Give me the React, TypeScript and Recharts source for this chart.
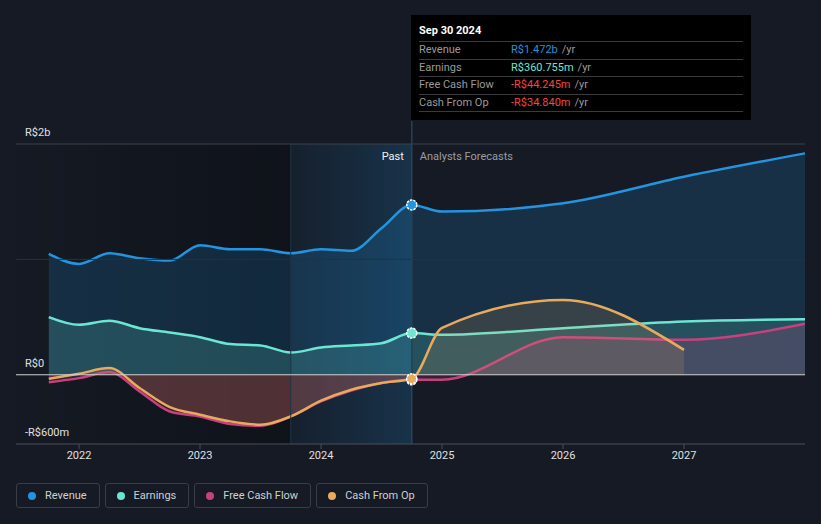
import React from 'react';
import {
  ComposedChart,
  Area,
  XAxis,
  YAxis,
  ReferenceLine,
  ReferenceArea,
} from 'recharts';

// quarter ends (decimal years) for history, then year-end analyst forecasts
const periods = [
  2021.75, 2022.0, 2022.25, 2022.5, 2022.75, 2023.0, 2023.25, 2023.5, 2023.75,
  2024.0, 2024.25, 2024.5, 2024.75, 2025.0, 2026.0, 2027.0, 2028.0,
];
// R$ millions
const revenue = [
  1048, 961, 1053, 1010, 990, 1123, 1088, 1088, 1053, 1088, 1074, 1270, 1472,
  1414, 1486, 1717, 1919,
];
const earnings = [
  500, 433, 468, 404, 366, 326, 266, 254, 193, 236, 254, 274, 361, 346, 404,
  462, 482,
];
const freeCashFlow = [
  -64, -29, 23, -144, -318, -361, -427, -442, -361, -231, -136, -72, -44, -43,
  326, 303, 442,
];
const cashFromOp = [
  -35, 9, 58, -115, -280, -346, -404, -433, -361, -225, -130, -72, -35, 407,
  649, 216, null,
];

const xTicks = [2022, 2023, 2024, 2025, 2026, 2027];
const yLines = [
  { v: 2000, label: 'R$2b', stroke: '#3d434c' },
  { v: 1000, label: '', stroke: '#283039' },
  { v: -600, label: '-R$600m', stroke: 'none' },
];
const zeroLabel = 'R$0';

const CURRENT = 12; // Sep 30 2024
const currentLabel = 'Sep 30 2024';
const pastStart = 2023.75;

const series = [
  { key: 'revenue', name: 'Revenue', color: '#2394df', tip: 'R$1.472b', fo: 0.18 },
  { key: 'earnings', name: 'Earnings', color: '#6ce6d3', tip: 'R$360.755m', fo: 0.18 },
  { key: 'fcf', name: 'Free Cash Flow', color: '#c8417f', tip: '-R$44.245m', fo: 0.2 },
  { key: 'cfo', name: 'Cash From Op', color: '#e8aa5c', tip: '-R$34.840m', fo: 0.15 },
];

const data = periods.map((t, i) => ({
  t,
  revenue: revenue[i],
  earnings: earnings[i],
  fcf: freeCashFlow[i],
  cfo: cashFromOp[i],
}));

const FONT = 'Roboto, "Open Sans", sans-serif';
const axisLabel = { position: 'insideBottomLeft' as const, offset: 8, dx: 1, fill: '#e0e0e0', fontSize: 11, fontFamily: FONT };

const makeDot = (color: string) => (props: any) => {
  const { cx, cy, index } = props;
  if (index !== CURRENT || cx == null || cy == null) return <g key={`d${index}`} />;
  return (
    <g key={`d${index}`}>
      <circle cx={cx} cy={cy} r={5} fill={color} stroke="#fff" strokeWidth={1.5} strokeDasharray="2.5 1" />
    </g>
  );
};

export default function App() {
  const tipColor = (v: string, c: string) => (v.startsWith('-') ? '#f0473f' : c);
  return (
    <div style={{ position: 'relative', width: 821, height: 524, background: '#151a24', fontFamily: FONT, overflow: 'hidden' }}>
      <style>{`body{margin:0}`}</style>
      <ComposedChart width={821} height={480} data={data} margin={{ top: 144, right: 16, bottom: 6, left: 16 }}>
        <defs>
          <linearGradient id="pastShade" x1="0" y1="0" x2="1" y2="0">
            <stop offset="0%" stopColor="#000" stopOpacity={0.02} />
            <stop offset="100%" stopColor="#000" stopOpacity={0.3} />
          </linearGradient>
          <linearGradient id="pastHi" x1="0" y1="0" x2="1" y2="0">
            <stop offset="0%" stopColor="#2394df" stopOpacity={0.05} />
            <stop offset="100%" stopColor="#2394df" stopOpacity={0.2} />
          </linearGradient>
        </defs>
        <XAxis
          type="number"
          dataKey="t"
          domain={[2021.479, 2028]}
          ticks={xTicks}
          allowDataOverflow
          height={30}
          tickSize={5}
          tickFormatter={(v) => String(v)}
          tick={{ fill: '#e0e0e0', fontSize: 11, fontFamily: FONT }}
          stroke="#4a4f58"
        />
        <YAxis type="number" domain={[-600, 2000]} allowDataOverflow hide />
        <ReferenceArea x1={2021.479} x2={pastStart} y1={-600} y2={2000} fill="url(#pastShade)" fillOpacity={1} stroke="none" />
        <ReferenceArea x1={pastStart} x2={periods[CURRENT]} y1={-600} y2={2000} fill="url(#pastHi)" fillOpacity={1} stroke="none" />
        <ReferenceLine x={pastStart} stroke="#1f3548" strokeWidth={1} />
        {yLines.map((l) => (
          <ReferenceLine key={l.v} y={l.v} stroke={l.stroke} strokeWidth={1} label={{ value: l.label, ...axisLabel }} />
        ))}
        {series.map((s) => (
          <Area
            key={s.key}
            type="monotone"
            dataKey={s.key}
            name={s.name}
            stroke={s.color}
            strokeWidth={2.5}
            fill={s.color}
            fillOpacity={s.fo}
            baseValue={0}
            dot={false}
            activeDot={false}
            isAnimationActive={false}
          />
        ))}
        <ReferenceLine y={0} stroke="#d2d2d2" strokeWidth={1} label={{ value: zeroLabel, ...axisLabel }} />
        <ReferenceLine
          segment={[
            { x: periods[CURRENT], y: -600 },
            { x: periods[CURRENT], y: 2200 },
          ]}
          ifOverflow="visible"
          stroke="#2b4156"
          strokeWidth={1.5}
          label={(p: any) => {
            const vb = p.viewBox || {};
            const x = vb.x ?? 0;
            return (
              <g>
                <text x={x - 8} y={160} fill="#f0f0f0" fontSize={11} fontFamily={FONT} textAnchor="end">
                  Past
                </text>
                <text x={x + 8} y={160} fill="#9a9da3" fontSize={11} fontFamily={FONT} textAnchor="start">
                  Analysts Forecasts
                </text>
              </g>
            );
          }}
        />
        {series.map((s) => (
          <Area
            key={`${s.key}-dot`}
            type="monotone"
            dataKey={s.key}
            stroke="none"
            fill="none"
            dot={makeDot(s.color)}
            activeDot={false}
            isAnimationActive={false}
            legendType="none"
          />
        ))}
      </ComposedChart>

      <div style={{ position: 'absolute', left: 411, top: 15, width: 340, height: 105, background: '#000', boxSizing: 'border-box', padding: '8px 8px 0 8px' }}>
        <div style={{ color: '#fff', fontSize: 11, fontWeight: 700, height: 18, lineHeight: '16px' }}>{currentLabel}</div>
        {series.map((s) => (
          <div key={s.key} style={{ borderTop: '1px solid #3b3b3b', height: 16.5, lineHeight: '16.5px', fontSize: 11, display: 'flex' }}>
            <span style={{ color: '#9a9a9a', width: 92 }}>{s.name}</span>
            <span style={{ color: tipColor(s.tip, s.color) }}>{s.tip}</span>
            <span style={{ color: '#9a9a9a', marginLeft: 4 }}>/yr</span>
          </div>
        ))}
        <div style={{ borderTop: '1px solid #3b3b3b' }} />
      </div>

      <div style={{ position: 'absolute', left: 16, top: 483, display: 'flex', gap: 5 }}>
        {series.map((s) => (
          <div
            key={s.key}
            style={{
              height: 25,
              boxSizing: 'border-box',
              border: '1px solid #383e48',
              borderRadius: 3,
              display: 'flex',
              alignItems: 'center',
              padding: '0 12px 0 11px',
              fontSize: 11,
              color: '#d0d0d0',
            }}
          >
            <span style={{ width: 8, height: 8, borderRadius: 4, background: s.color, marginRight: 9 }} />
            {s.name}
          </div>
        ))}
      </div>
    </div>
  );
}
